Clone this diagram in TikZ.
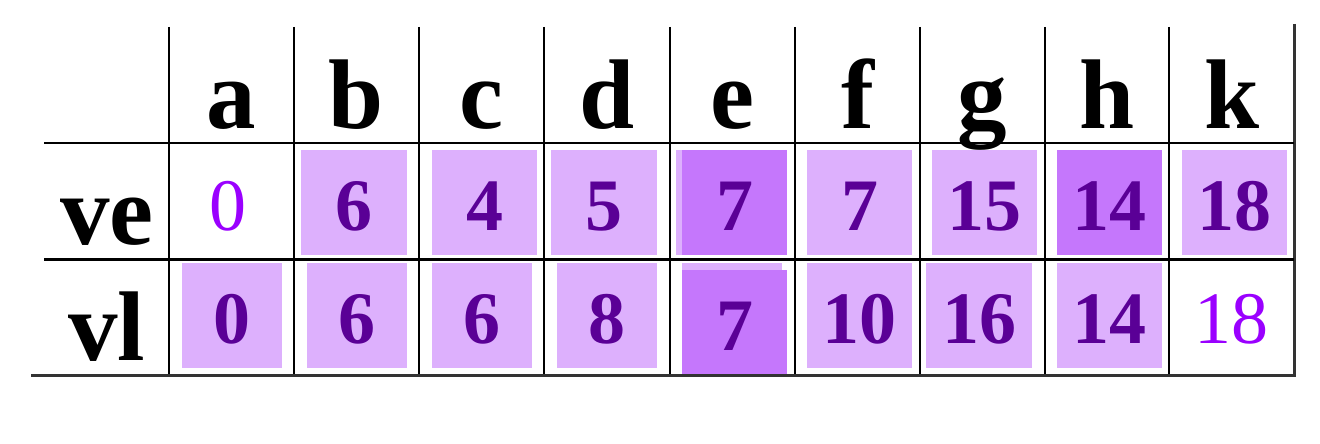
\documentclass[tikz,border=0pt]{standalone}
\usepackage{fontspec}
\setmainfont{Liberation Serif}
\definecolor{boxlight}{HTML}{DDB0FD}
\definecolor{boxdark}{HTML}{C577FC}
\definecolor{numdark}{HTML}{5A0096}
\definecolor{numlight}{HTML}{9A00FF}
\begin{document}
\begin{tikzpicture}[x=1pt,y=-1pt,
  head/.style={font=\fontsize{99}{99}\selectfont\bfseries, anchor=base, inner sep=0pt},
  num/.style={font=\fontsize{74}{74}\selectfont\bfseries, text=numdark, anchor=base, inner sep=0pt},
  numplain/.style={font=\fontsize{74}{74}\selectfont, text=numlight, anchor=base, inner sep=0pt},
  vgrid/.style={line width=1.6pt, black},
  hgrid/.style={line width=2.4pt, black},
  frameline/.style={line width=3pt, black!80}
]
\useasboundingbox (0,0) rectangle (1320,444);
% boxes, row ve
\fill[boxlight] (301,150) rectangle (407,255);
\fill[boxlight] (432,150) rectangle (537,255);
\fill[boxlight] (551,150) rectangle (657,255);
\fill[boxlight] (676,150) rectangle (787,255);
\fill[boxdark]  (682,150) rectangle (787,255);
\fill[boxlight] (807,150) rectangle (912,255);
\fill[boxlight] (932,150) rectangle (1037,255);
\fill[boxdark]  (1057,150) rectangle (1162,255);
\fill[boxlight] (1182,150) rectangle (1287,255);
% boxes, row vl
\fill[boxlight] (182,263) rectangle (282,368);
\fill[boxlight] (307,263) rectangle (407,368);
\fill[boxlight] (432,263) rectangle (532,368);
\fill[boxlight] (557,263) rectangle (657,368);
\fill[boxlight] (682,263) rectangle (782,300);
\fill[boxdark]  (682,270) rectangle (787,375);
\fill[boxlight] (807,263) rectangle (912,368);
\fill[boxlight] (926,263) rectangle (1032,368);
\fill[boxlight] (1057,263) rectangle (1162,368);
% grid
\foreach \x in {169,294,419,544,670,795,920,1045,1169}
  \draw[vgrid] (\x,27) -- (\x,375);
\draw[frameline] (1294,24) -- (1294,376.5);
\draw[hgrid] (44,143) -- (1294,143);
\draw[hgrid] (44,259.5) -- (1294,259.5);
\draw[frameline] (31,375) -- (1295.5,375);
% headers
\node[head] (ha) at (231.5,128) {a};
\node[head] (hb) at (356.5,128) {b};
\node[head] (hc) at (481.5,128) {c};
\node[head] (hd) at (607,128) {d};
\node[head] (he) at (732.5,128) {e};
\node[head] (hf) at (857.5,128) {f};
\node[head] (hg) at (982.5,128) {g};
\node[head] (hh) at (1107,128) {h};
\node[head] (hk) at (1232.5,128) {k};
% row labels
\node[head] (rve) at (107,244) {ve};
\node[head] (rvl) at (107,360) {vl};
% row ve values
\node[numplain] (vea) at (228,230) {0};
\node[num] (veb) at (354,230) {6};
\node[num] (vec) at (484.5,230) {4};
\node[num] (ved) at (604,230) {5};
\node[num] (vee) at (734.5,230) {7};
\node[num] (vef) at (859.5,230) {7};
\node[num] (veg) at (984.5,230) {15};
\node[num] (veh) at (1109.5,230) {14};
\node[num] (vek) at (1234.5,230) {18};
% row vl values
\node[num] (vla) at (232,343) {0};
\node[num] (vlb) at (357,343) {6};
\node[num] (vlc) at (482,343) {6};
\node[num] (vld) at (607,343) {8};
\node[num] (vle) at (734.5,350) {7};
\node[num] (vlf) at (859.5,343) {10};
\node[num] (vlg) at (979,343) {16};
\node[num] (vlh) at (1109.5,343) {14};
\node[numplain] (vlk) at (1231,343) {18};
\end{tikzpicture}
\end{document}
